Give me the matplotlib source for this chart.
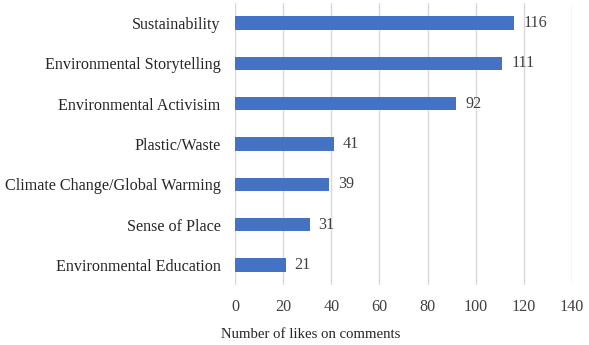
import matplotlib
matplotlib.use("Agg")
import matplotlib.pyplot as plt

categories = ["Sustainability", "Environmental Storytelling", "Environmental Activisim",
              "Plastic/Waste", "Climate Change/Global Warming", "Sense of Place",
              "Environmental Education"]
values = [116, 111, 92, 41, 39, 31, 21]
xticks = [0, 20, 40, 60, 80, 100, 120, 140]
xlabel = "Number of likes on comments"

plt.rcParams['font.family'] = ['Liberation Serif', 'DejaVu Serif']
fig = plt.figure(figsize=(5.89, 3.45), dpi=100)
ax = fig.add_axes([235/589, 1 - 285/345, (572-235)/589, (285-3)/345])

ypos = list(range(len(categories)))
ax.barh(ypos, values, height=0.33, color="#4472C4", zorder=3)
ax.set_ylim(len(categories) - 0.5, -0.5)
ax.set_xlim(0, 140)
ax.set_xticks(xticks)
ax.set_yticks(ypos)
ax.set_yticklabels(categories, fontsize=11.6, color="#262626")
ax.set_xticklabels([str(t) for t in xticks], fontsize=11.6, color="#404040")
ax.tick_params(axis='both', length=0)
ax.tick_params(axis='y', pad=10.5)
ax.tick_params(axis='x', pad=10)
for s in ax.spines.values():
    s.set_visible(False)
ax.grid(axis='x', color="#d9d9d9", linewidth=1, zorder=0)
ax.set_axisbelow(True)
for y, v in zip(ypos, values):
    ax.annotate(str(v), (v, y), xytext=(6.5, 0), textcoords='offset points',
                va='center', ha='left', fontsize=11.6, color="#404040")
fig.text(311/589, 1 - 335/345, xlabel, ha='center', va='center', fontsize=10.6, color="#262626")
fig.savefig("out.png", dpi=100)
